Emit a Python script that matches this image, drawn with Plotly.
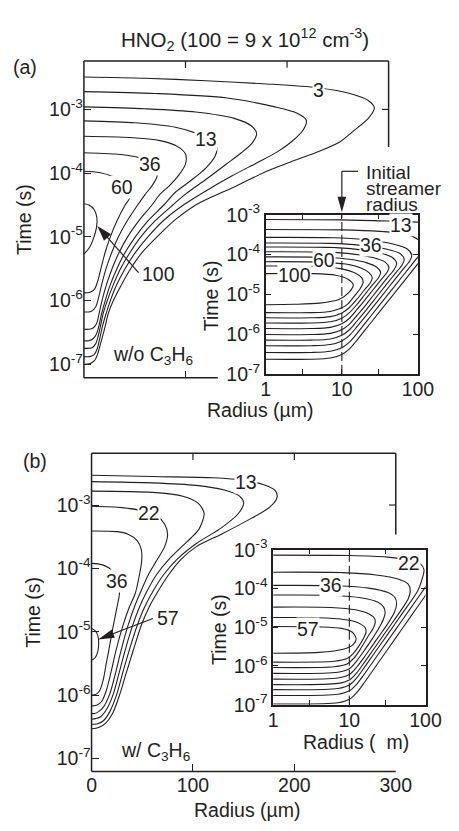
import math
import plotly.graph_objects as go

W, H = 459, 831
INK = "#231f20"
FONT = "Liberation Sans, Arial, Helvetica, sans-serif"
FS = 19.5

# ---------------------------------------------------------------------------
# Contour lines of HNO2 density.  Main panels: (radius in um, log10 time in s)
# Insets: (log10 radius in um, log10 time in s)
# ---------------------------------------------------------------------------

# (a) without C3H6, main axes
a_lvl3 = [(0, -2.49), (60, -2.51), (120, -2.55), (180, -2.60), (230, -2.66), (262, -2.75),
          (280, -2.86), (286, -2.98), (280, -3.14), (266, -3.33), (251, -3.52), (228, -3.68),
          (204, -3.82), (180, -3.97), (150, -4.2), (125, -4.38), (110, -4.5), (90, -4.73),
          (72, -5.0), (57, -5.25), (46, -5.5), (37, -5.75), (29, -6.0), (24, -6.2), (21, -6.4),
          (18, -6.58), (16, -6.7), (13.5, -6.84), (10.5, -6.94), (6, -6.99), (0, -7.0)]
a_c2 = [(0, -2.72), (70, -2.75), (141, -2.82), (188, -2.96), (210, -3.06), (219, -3.17),
        (216, -3.32), (205, -3.50), (190, -3.67), (170, -3.84), (145, -4.05), (120, -4.28),
        (98, -4.5), (80, -4.72), (63, -5.0), (50, -5.26), (40.5, -5.5), (32, -5.76), (26, -6.0),
        (21, -6.25), (18.3, -6.4), (15.5, -6.6), (13, -6.76), (10, -6.85), (6, -6.88), (0, -6.88)]
a_c3 = [(0, -2.96), (60, -2.99), (110, -3.04), (148, -3.14), (165, -3.26), (170, -3.38),
        (166, -3.52), (155, -3.68), (140, -3.86), (120, -4.10), (100, -4.33), (87.5, -4.5),
        (70, -4.75), (56, -5.0), (44, -5.28), (36, -5.5), (29, -5.75), (23, -6.0), (19, -6.2),
        (16.3, -6.4), (14, -6.56), (11.5, -6.68), (8, -6.74), (4, -6.75), (0, -6.75)]
a_lvl13 = [(0, -3.18), (50, -3.21), (90, -3.28), (112, -3.38), (126, -3.48), (131, -3.60),
           (129, -3.74), (120, -3.92), (105, -4.12), (90, -4.30), (78.7, -4.5), (63, -4.75),
           (50.6, -5.0), (40, -5.26), (32.5, -5.5), (26, -5.75), (21, -6.0), (17.5, -6.2),
           (15, -6.38), (12.5, -6.52), (9, -6.6), (5, -6.63), (0, -6.63)]
a_c5 = [(0, -3.42), (45, -3.44), (75, -3.49), (92, -3.58), (100, -3.70), (100, -3.86),
        (94, -4.02), (84, -4.20), (75, -4.33), (67, -4.5), (54, -4.75), (43, -5.0),
        (34.5, -5.25), (27.7, -5.5), (22.2, -5.75), (17.8, -6.0), (15, -6.2), (12.5, -6.36),
        (9, -6.43), (5, -6.45), (0, -6.45)]
a_lvl36 = [(0, -3.68), (30, -3.70), (50, -3.74), (63, -3.81), (71, -3.92), (72, -4.05),
           (67, -4.20), (60, -4.34), (52.9, -4.5), (42.5, -4.75), (34, -5.0), (27.3, -5.25),
           (21.8, -5.5), (17.5, -5.75), (14.5, -5.95), (11.5, -6.1), (7, -6.17), (0, -6.18)]
a_lvl60 = [(0, -3.97), (15, -3.99), (28, -4.05), (37, -4.13), (43, -4.25), (45, -4.39),
           (40.6, -4.5), (32.5, -4.75), (26, -5.0), (20.8, -5.25), (16.7, -5.5), (13.5, -5.7),
           (10.5, -5.82), (6, -5.87), (0, -5.88)]
a_lvl100 = [(0, -4.48), (5, -4.50), (10, -4.57), (12.8, -4.70), (12.3, -4.86), (9.5, -5.02),
            (5, -5.18), (0, -5.27)]

# (a) inset, log-log
ai_lvl100 = [(0, -4.48), (0.62, -4.48), (0.92, -4.52), (1.08, -4.62), (1.15, -4.76), (1.10, -4.94),
             (0.96, -5.13), (0.71, -5.22), (0.38, -5.25), (0, -5.26)]
ai_c1 = [(0, -4.29), (0.7, -4.30), (1.0, -4.36), (1.18, -4.47), (1.26, -4.58), (1.28, -4.70),
         (1.24, -4.86), (1.17, -5.03), (1.08, -5.24), (1.0, -5.34), (0.85, -5.43), (0.6, -5.46),
         (0, -5.46)]
ai_c2 = [(0, -4.18), (0.7, -4.19), (1.05, -4.24), (1.25, -4.34), (1.36, -4.46), (1.40, -4.58),
         (1.37, -4.72), (1.3, -4.88), (1.2, -5.12), (1.1, -5.33), (1.0, -5.47), (0.85, -5.56),
         (0.6, -5.59), (0, -5.59)]
ai_c3 = [(0, -4.06), (0.75, -4.07), (1.1, -4.12), (1.33, -4.21), (1.46, -4.32), (1.51, -4.45),
         (1.48, -4.59), (1.4, -4.77), (1.3, -5.01), (1.2, -5.25), (1.1, -5.46), (1.0, -5.60),
         (0.85, -5.69), (0.6, -5.72), (0, -5.72)]
ai_c4 = [(0, -3.93), (0.8, -3.94), (1.15, -3.99), (1.42, -4.08), (1.57, -4.19), (1.62, -4.33),
         (1.59, -4.46), (1.5, -4.67), (1.4, -4.91), (1.3, -5.15), (1.2, -5.38), (1.1, -5.60),
         (1.0, -5.74), (0.85, -5.83), (0.6, -5.86), (0, -5.86)]
ai_c5 = [(0, -3.81), (0.8, -3.82), (1.2, -3.87), (1.5, -3.96), (1.66, -4.07), (1.72, -4.22),
         (1.69, -4.37), (1.6, -4.58), (1.5, -4.82), (1.4, -5.06), (1.3, -5.30), (1.2, -5.53),
         (1.1, -5.75), (1.0, -5.89), (0.85, -5.98), (0.6, -6.01), (0, -6.01)]
ai_c6 = [(0, -3.71), (0.85, -3.72), (1.25, -3.77), (1.58, -3.86), (1.76, -3.97), (1.82, -4.12),
         (1.79, -4.27), (1.7, -4.48), (1.6, -4.72), (1.5, -4.96), (1.4, -5.20), (1.3, -5.44),
         (1.2, -5.67), (1.1, -5.89), (1.0, -6.03), (0.85, -6.12), (0.6, -6.15), (0, -6.15)]
ai_c7 = [(0, -3.57), (0.9, -3.58), (1.3, -3.63), (1.66, -3.73), (1.86, -3.86), (1.92, -4.02),
         (1.89, -4.17), (1.8, -4.38), (1.6, -4.86), (1.4, -5.34), (1.2, -5.81), (1.1, -6.03),
         (1.0, -6.17), (0.85, -6.26), (0.6, -6.29), (0, -6.29)]
ai_c8_top = [(0, -3.37), (1.0, -3.38), (1.5, -3.42), (1.8, -3.48), (1.93, -3.55), (2.05, -3.68)]
ai_c8_low = [(2.05, -3.94), (2.0, -4.06), (1.8, -4.54), (1.6, -5.02), (1.4, -5.50), (1.2, -5.98),
             (1.1, -6.20), (1.0, -6.34), (0.85, -6.43), (0.6, -6.46), (0, -6.46)]
ai_lvl13_top = [(0, -3.12), (1.0, -3.13), (1.6, -3.16), (2.05, -3.19)]
ai_lvl13_low = [(2.05, -4.11), (2.0, -4.23), (1.8, -4.71), (1.6, -5.19), (1.4, -5.67), (1.2, -6.15),
                (1.1, -6.37), (1.0, -6.51), (0.85, -6.60), (0.6, -6.63), (0, -6.63)]

# (b) with C3H6, main axes
b_lvl13 = [(0, -2.53), (60, -2.55), (120, -2.57), (150, -2.61), (170, -2.68), (181, -2.77),
           (183, -2.88), (176, -3.03), (153, -3.25), (128, -3.46), (103, -3.66), (88, -3.86),
           (76, -4.10), (66, -4.35), (56.5, -4.62), (49, -4.90), (41, -5.30), (34, -5.66),
           (28, -5.98), (21, -6.28), (14, -6.44), (7, -6.51), (0, -6.53)]
b_c2 = [(0, -2.63), (60, -2.65), (103, -2.69), (130, -2.76), (146, -2.86), (150, -2.97),
        (145, -3.13), (128, -3.36), (103, -3.61), (84, -3.86), (71, -4.10), (61, -4.35),
        (52, -4.62), (45, -4.90), (37, -5.30), (30.5, -5.66), (25, -5.98), (18, -6.26),
        (12, -6.40), (6, -6.45), (0, -6.46)]
b_c3 = [(0, -2.78), (60, -2.80), (90, -2.86), (105, -2.97), (111, -3.13), (106, -3.38),
        (98, -3.52), (90, -3.64), (76, -3.86), (64, -4.10), (55, -4.35), (47, -4.62),
        (40.5, -4.90), (33, -5.30), (27, -5.66), (21.5, -5.98), (15, -6.22), (9, -6.34),
        (4, -6.37), (0, -6.38)]
b_lvl22 = [(0, -3.02), (30, -3.04), (50, -3.09), (64, -3.17), (72, -3.30), (75, -3.46),
           (72, -3.66), (64, -3.88), (56, -4.10), (49, -4.35), (42, -4.62), (36, -4.90),
           (29, -5.30), (23.5, -5.66), (18, -5.98), (12, -6.18), (7, -6.26), (3, -6.29), (0, -6.29)]
b_c5 = [(0, -3.41), (25, -3.42), (36, -3.46), (45, -3.56), (49, -3.70), (49.5, -3.87),
        (47, -4.12), (43, -4.40), (37, -4.62), (31, -4.90), (24, -5.30), (19, -5.65),
        (14.5, -5.93), (10, -6.10), (5, -6.16), (0, -6.17)]
b_lvl36 = [(0, -3.92), (10, -3.94), (17, -3.99), (23, -4.10), (27, -4.25), (27.5, -4.40),
           (25, -4.62), (21, -4.94), (17.5, -5.25), (14.5, -5.5), (11.5, -5.76), (8, -5.93),
           (4, -5.99), (0, -6.0)]
b_lvl57 = [(0, -4.95), (4, -4.99), (6.5, -5.08), (7, -5.2), (6, -5.32), (3.5, -5.41), (0, -5.45)]

# (b) inset, log-log
bi_lvl57 = [(0, -4.98), (0.6, -4.99), (0.9, -5.03), (1.04, -5.13), (1.09, -5.30), (1.05, -5.45),
            (0.92, -5.57), (0.6, -5.65), (0, -5.67)]
bi_c1 = [(0, -4.75), (0.7, -4.76), (1.0, -4.82), (1.15, -4.92), (1.21, -5.02), (1.22, -5.12),
         (1.19, -5.27), (1.12, -5.50), (1.05, -5.68), (0.97, -5.81), (0.8, -5.88), (0, -5.90)]
bi_c2 = [(0, -4.48), (0.75, -4.49), (1.08, -4.55), (1.26, -4.66), (1.33, -4.77), (1.34, -4.88),
         (1.31, -5.04), (1.25, -5.22), (1.15, -5.55), (1.06, -5.80), (0.97, -5.95), (0.8, -6.02),
         (0, -6.04)]
bi_c3 = [(0, -4.17), (0.8, -4.18), (1.15, -4.24), (1.37, -4.35), (1.45, -4.48), (1.47, -4.62),
         (1.45, -4.78), (1.4, -4.98), (1.3, -5.30), (1.2, -5.59), (1.1, -5.86), (1.0, -6.07),
         (0.85, -6.16), (0, -6.19)]
bi_lvl36 = [(0, -3.92), (0.85, -3.93), (1.25, -3.99), (1.5, -4.10), (1.6, -4.24), (1.62, -4.40),
            (1.59, -4.62), (1.5, -4.92), (1.4, -5.20), (1.3, -5.48), (1.2, -5.76), (1.1, -6.02),
            (1.0, -6.22), (0.85, -6.31), (0, -6.34)]
bi_c5 = [(0, -3.58), (0.9, -3.59), (1.35, -3.65), (1.65, -3.76), (1.77, -3.88), (1.80, -4.05),
         (1.77, -4.28), (1.7, -4.50), (1.5, -5.06), (1.3, -5.62), (1.2, -5.90), (1.1, -6.17),
         (1.0, -6.36), (0.85, -6.45), (0, -6.48)]
bi_lvl22 = [(0, -3.14), (1.0, -3.15), (1.5, -3.19), (1.8, -3.27), (1.93, -3.36), (1.98, -3.52),
            (1.96, -3.72), (1.9, -4.05), (1.7, -4.63), (1.5, -5.19), (1.3, -5.75), (1.2, -6.03),
            (1.1, -6.30), (1.0, -6.49), (0.85, -6.58), (0, -6.61)]
bi_c7 = [(2.05, -3.82), (2.0, -3.96), (1.8, -4.52), (1.6, -5.08), (1.4, -5.64), (1.2, -6.20),
         (1.1, -6.46), (1.0, -6.64), (0.85, -6.73), (0, -6.76)]
bi_c8 = [(2.05, -4.04), (2.0, -4.18), (1.8, -4.74), (1.6, -5.30), (1.4, -5.86), (1.2, -6.42),
         (1.1, -6.68), (1.0, -6.86), (0.85, -6.95), (0, -6.98)]

# contour labels: (text, x, log10 t)
a_labels = [("3", 231, -2.70), ("13", 120.5, -3.46), ("36", 64.6, -3.86), ("60", 37.4, -4.22)]
ai_labels = [("13", 1.78, -3.25), ("36", 1.38, -3.77), ("60", 0.77, -4.15), ("100", 0.38, -4.52)]
b_labels = [("13", 152, -2.63), ("22", 56.8, -3.13), ("36", 25.2, -4.20)]
bi_labels = [("22", 1.78, -3.35), ("36", 0.755, -3.91), ("57", 0.455, -5.04)]

# pointer labels: (text, tail x, tail log10 t, tip x, tip log10 t)
a_pointer = ("100", 53.8, -5.56, 13.2, -4.83)
b_pointer = ("57", 60.5, -4.79, 6.5, -5.12)

DECADES = [1e-7, 1e-6, 1e-5, 1e-4, 1e-3]
DECADE_TEXT = ["10<sup>-7</sup>", "10<sup>-6</sup>", "10<sup>-5</sup>", "10<sup>-4</sup>", "10<sup>-3</sup>"]
INSET_R = [1, 3, 10, 30, 100]
INSET_R_TEXT = ["1", " ", "10", " ", "100"]
MAIN_R = [0, 100, 200, 300]
MAIN_R_TEXT = ["0", "100", "200", "300"]
STREAMER_RADIUS = 10

# ---------------------------------------------------------------------------
# panel geometry in pixels: (left, top, right, bottom)
BOX_A = (82.7, 49.5, 402.0, 375.7)
BOX_AI = (273.3, 207.7, 432.7, 371.7)
BOX_B = (90.7, 453.3, 409.5, 781.0)
BOX_BI = (281.0, 552.7, 440.7, 712.3)
YR_A = [-7.213, -2.241]
YR_B = [-7.204, -2.182]
YR_IN = [-7, -3]
XR_MAIN = [0, 300]
XR_IN = [0, 2]


def xdom(b):
    return [b[0] / W, b[2] / W]


def ydom(b):
    return [1 - b[3] / H, 1 - b[1] / H]


def P(X, Y):
    return X / W, 1 - Y / H


def to_px(box, xr, yr, xv, yv):
    X = box[0] + (xv - xr[0]) / (xr[1] - xr[0]) * (box[2] - box[0])
    Y = box[1] + (yr[1] - yv) / (yr[1] - yr[0]) * (box[3] - box[1])
    return X, Y


fig = go.Figure()


def add_curve(points, xa, ya, logx):
    xs = [10 ** p[0] if logx else p[0] for p in points]
    ys = [10 ** p[1] for p in points]
    fig.add_trace(go.Scatter(x=xs, y=ys, mode="lines", xaxis=xa, yaxis=ya, hoverinfo="skip",
                             line=dict(color=INK, width=1.1, shape="spline", smoothing=0.8)))


for c in [a_lvl3, a_c2, a_c3, a_lvl13, a_c5, a_lvl36, a_lvl60, a_lvl100]:
    add_curve(c, "x", "y", False)
for c in [ai_lvl100, ai_c1, ai_c2, ai_c3, ai_c4, ai_c5, ai_c6, ai_c7, ai_c8_top, ai_c8_low,
          ai_lvl13_top, ai_lvl13_low]:
    add_curve(c, "x2", "y2", True)
for c in [b_lvl13, b_c2, b_c3, b_lvl22, b_c5, b_lvl36, b_lvl57]:
    add_curve(c, "x3", "y3", False)
for c in [bi_lvl57, bi_c1, bi_c2, bi_c3, bi_lvl36, bi_c5, bi_lvl22, bi_c7, bi_c8]:
    add_curve(c, "x4", "y4", True)

# initial streamer radius in both insets
for xa, ya in [("x2", "y2"), ("x4", "y4")]:
    fig.add_trace(go.Scatter(x=[STREAMER_RADIUS, STREAMER_RADIUS], y=[1e-7, 1e-3], mode="lines",
                             xaxis=xa, yaxis=ya, hoverinfo="skip",
                             line=dict(color=INK, width=1.1, dash="9px,4px")))

tickfont = dict(family=FONT, size=FS, color=INK)
common = dict(showgrid=False, zeroline=False, ticks="inside", tickcolor=INK, tickfont=tickfont)
inset_x = dict(type="log", range=XR_IN, showline=True, linecolor=INK, linewidth=1.5,
               mirror="ticks", tickvals=INSET_R, ticktext=INSET_R_TEXT, ticklen=5,
               ticklabelstandoff=-3, **common)
inset_y = dict(type="log", range=YR_IN, showline=True, linecolor=INK, linewidth=1.5,
               mirror="ticks", tickvals=DECADES, ticktext=DECADE_TEXT, ticklen=5, **common)

layout = dict(
    width=W, height=H, margin=dict(l=0, r=0, t=0, b=0, pad=0), showlegend=False,
    paper_bgcolor="white", plot_bgcolor="white", font=dict(family=FONT, color=INK, size=FS),
    xaxis=dict(domain=xdom(BOX_A), range=XR_MAIN, anchor="y", showline=False,
               tickvals=[100], showticklabels=False, ticklen=7, **common),
    yaxis=dict(domain=ydom(BOX_A), type="log", range=YR_A, anchor="x", showline=False,
               tickvals=DECADES, ticktext=DECADE_TEXT, ticklen=7, **common),
    xaxis2=dict(domain=xdom(BOX_AI), anchor="y2", **inset_x),
    yaxis2=dict(domain=ydom(BOX_AI), anchor="x2", **inset_y),
    xaxis3=dict(domain=xdom(BOX_B), range=XR_MAIN, anchor="y3", showline=False,
                tickvals=MAIN_R, ticktext=MAIN_R_TEXT, ticklen=7, **common),
    yaxis3=dict(domain=ydom(BOX_B), type="log", range=YR_B, anchor="x3", showline=False,
                tickvals=DECADES, ticktext=DECADE_TEXT, ticklen=7, **common),
    xaxis4=dict(domain=xdom(BOX_BI), anchor="y4", **inset_x),
    yaxis4=dict(domain=ydom(BOX_BI), anchor="x4", **inset_y),
)
fig.update_layout(**layout)

shapes = []


def seg(X0, Y0, X1, Y1, w=1.5):
    x0, y0 = P(X0, Y0)
    x1, y1 = P(X1, Y1)
    shapes.append(dict(type="line", xref="paper", yref="paper", x0=x0, y0=y0, x1=x1, y1=y1,
                       line=dict(color=INK, width=w), layer="above"))


def arrow(tail, tip, head_len=15, head_w=9):
    (sx, sy), (tx, ty) = tail, tip
    L = math.hypot(tx - sx, ty - sy)
    ux, uy = (tx - sx) / L, (ty - sy) / L
    bx, by = tx - ux * head_len, ty - uy * head_len
    nx, ny = -uy, ux
    seg(sx, sy, bx + ux * 2, by + uy * 2, w=1.2)
    pts = [(tx, ty), (bx + nx * head_w / 2, by + ny * head_w / 2),
           (bx - nx * head_w / 2, by - ny * head_w / 2)]
    path = "M " + " L ".join("%.5f,%.5f" % P(X, Y) for X, Y in pts) + " Z"
    shapes.append(dict(type="path", xref="paper", yref="paper", path=path, fillcolor=INK,
                       line=dict(width=0), layer="above"))


# main frames (partly hidden behind the insets)
l, t, r, b = BOX_A
seg(l, t, l, b); seg(l, t, r, t); seg(r, t, r, 138); seg(l, b, 223, b)
for rv in [100, 200]:
    X, _ = to_px(BOX_A, XR_MAIN, YR_A, rv, -3)
    seg(X, t, X, t + 7, w=1.2)
_, Y = to_px(BOX_A, XR_MAIN, YR_A, 0, -3)
seg(r, Y, r - 7, Y, w=1.2)

l, t, r, b = BOX_B
seg(l, t, l, b); seg(l, t, r, t); seg(r, t, r, 537); seg(l, b, r, b)
for rv in [100, 200]:
    X, _ = to_px(BOX_B, XR_MAIN, YR_B, rv, -3)
    seg(X, t, X, t + 7, w=1.2)
_, Y = to_px(BOX_B, XR_MAIN, YR_B, 0, -3)
seg(r, Y, r - 7, Y, w=1.2)

# pointers to the innermost closed contours
txt, x0, y0, x1, y1 = a_pointer
arrow(to_px(BOX_A, XR_MAIN, YR_A, x0, y0), to_px(BOX_A, XR_MAIN, YR_A, x1, y1), 16, 10)
txt, x0, y0, x1, y1 = b_pointer
arrow(to_px(BOX_B, XR_MAIN, YR_B, x0, y0), to_px(BOX_B, XR_MAIN, YR_B, x1, y1), 17, 9)

# "Initial streamer radius" pointer
Xs, Ytop = to_px(BOX_AI, XR_IN, YR_IN, math.log10(STREAMER_RADIUS), -3)
seg(Xs, 163, 370, 163, w=1.2)
arrow((Xs, 163), (Xs, Ytop - 2.5), 16, 9)

fig.update_layout(shapes=shapes)

ann = []


def text_px(s, X, Y, size=FS, xanchor="center", angle=0):
    x, y = P(X, Y)
    ann.append(dict(text=s, x=x, y=y, xref="paper", yref="paper", showarrow=False,
                    xanchor=xanchor, yanchor="middle", textangle=angle,
                    font=dict(family=FONT, size=size, color=INK)))


def label(s, xv, yv, xa, ya):
    ann.append(dict(text=s, x=xv, y=yv, xref=xa, yref=ya, showarrow=False, bgcolor="white",
                    borderpad=0, xanchor="center", yanchor="middle",
                    font=dict(family=FONT, size=FS, color=INK)))


for s, xv, yv in a_labels:
    label(s, xv, yv, "x", "y")
for s, xv, yv in ai_labels:
    label(s, xv, yv, "x2", "y2")
for s, xv, yv in b_labels:
    label(s, xv, yv, "x3", "y3")
for s, xv, yv in bi_labels:
    label(s, xv, yv, "x4", "y4")

X, Y = to_px(BOX_A, XR_MAIN, YR_A, a_pointer[1], a_pointer[2])
text_px(a_pointer[0], X + 2, Y + 1, xanchor="left")
X, Y = to_px(BOX_B, XR_MAIN, YR_B, b_pointer[1], b_pointer[2])
text_px(b_pointer[0], X + 2, Y, xanchor="left")

text_px("HNO<sub>2</sub> (100 = 9 x 10<sup>12</sup> cm<sup>-3</sup>)", 251.7, 27, size=20.5)
text_px("(a)", 21, 56)
text_px("(b)", 31.5, 461.5)
text_px("Time (s)", 20.5, 212.6, angle=-90)
text_px("Time (s)", 30, 617, angle=-90)
text_px("Time (s)", 215.5, 291, angle=-90)
text_px("Time (s)", 223.5, 635, angle=-90)
text_px("Radius (\u00b5m)", 267.5, 409)
text_px("Radius (  m)", 367.5, 751)
text_px("Radius (\u00b5m)", 254, 821)
text_px("Initial", 376, 164, size=19, xanchor="left")
text_px("streamer", 376, 180.5, size=19, xanchor="left")
text_px("radius", 376, 197.5, size=19, xanchor="left")
text_px("w/o C<sub>3</sub>H<sub>6</sub>", 155, 353)
text_px("w/ C<sub>3</sub>H<sub>6</sub>", 157.5, 760)

fig.update_layout(annotations=ann)
fig.write_html("out.html")
